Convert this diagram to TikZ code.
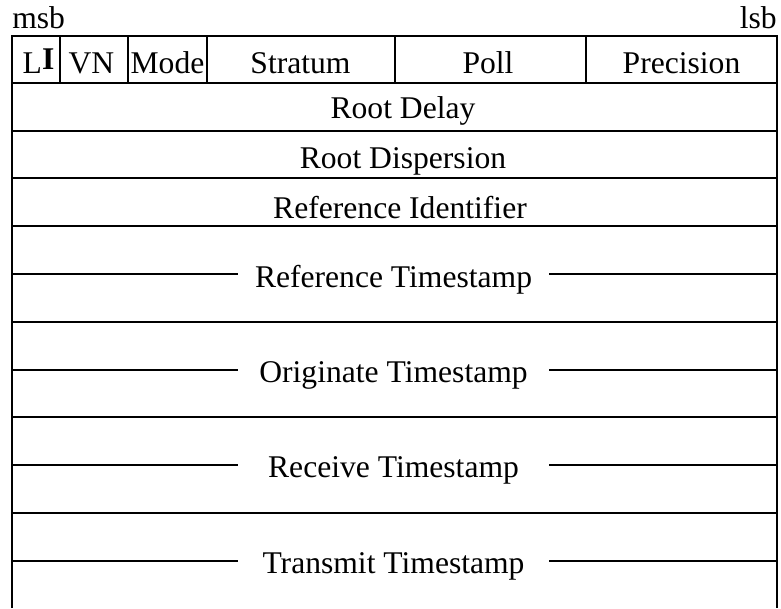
\documentclass[tikz,border=0pt]{standalone}
\usepackage{fontspec}
\setmainfont{Liberation Serif}
\begin{document}
\begin{tikzpicture}[x=0.75pt, y=-0.75pt,
    rule/.style={line width=0.9pt, black},
    lbl/.style={anchor=base, inner sep=0pt, font=\fontsize{23.7}{28}\selectfont}]
  \useasboundingbox (0,0) rectangle (781,608);

  % outer frame (open at the bottom)
  \draw[rule] (12,608) -- (12,36) -- (777,36) -- (777,608);

  % first word: field dividers
  \foreach \xx in {60,128,207,395,586}
    \draw[rule] (\xx,36) -- (\xx,83);

  % full-width row separators
  \foreach \yy in {83,131,178,226,322,417,513}
    \draw[rule] (12,\yy) -- (777,\yy);

  % half separators on either side of the 64-bit timestamp labels
  \foreach \yy in {274,370,465,561} {
    \draw[rule] (12,\yy) -- (238,\yy);
    \draw[rule] (549,\yy) -- (777,\yy);
  }

  % bit order
  \node[lbl, anchor=base west] (msb) at (12,28) {msb};
  \node[lbl, anchor=base east] (lsb) at (777,28) {lsb};

  % first word fields
  \node[lbl] (li)   at (38.5,73)  {L\raisebox{2.5pt}{\textbf{I}}};
  \node[lbl] (vn)   at (91.5,73)  {VN};
  \node[lbl] (mode) at (167.5,73) {Mode};
  \node[lbl] (str)  at (300.5,73) {Stratum};
  \node[lbl] (poll) at (488,73)   {Poll};
  \node[lbl] (prec) at (681.5,73) {Precision};

  % 32-bit words
  \node[lbl] (rdel) at (403,118) {Root Delay};
  \node[lbl] (rdis) at (403,168) {Root Dispersion};
  \node[lbl] (rid)  at (400,218) {Reference Identifier};

  % 64-bit timestamps
  \node[lbl] (refts)  at (393.5,287) {Reference Timestamp};
  \node[lbl] (orgts)  at (393.5,382) {Originate Timestamp};
  \node[lbl] (rects)  at (393.5,477) {Receive Timestamp};
  \node[lbl] (xmtts)  at (393.5,573) {Transmit Timestamp};
\end{tikzpicture}
\end{document}
